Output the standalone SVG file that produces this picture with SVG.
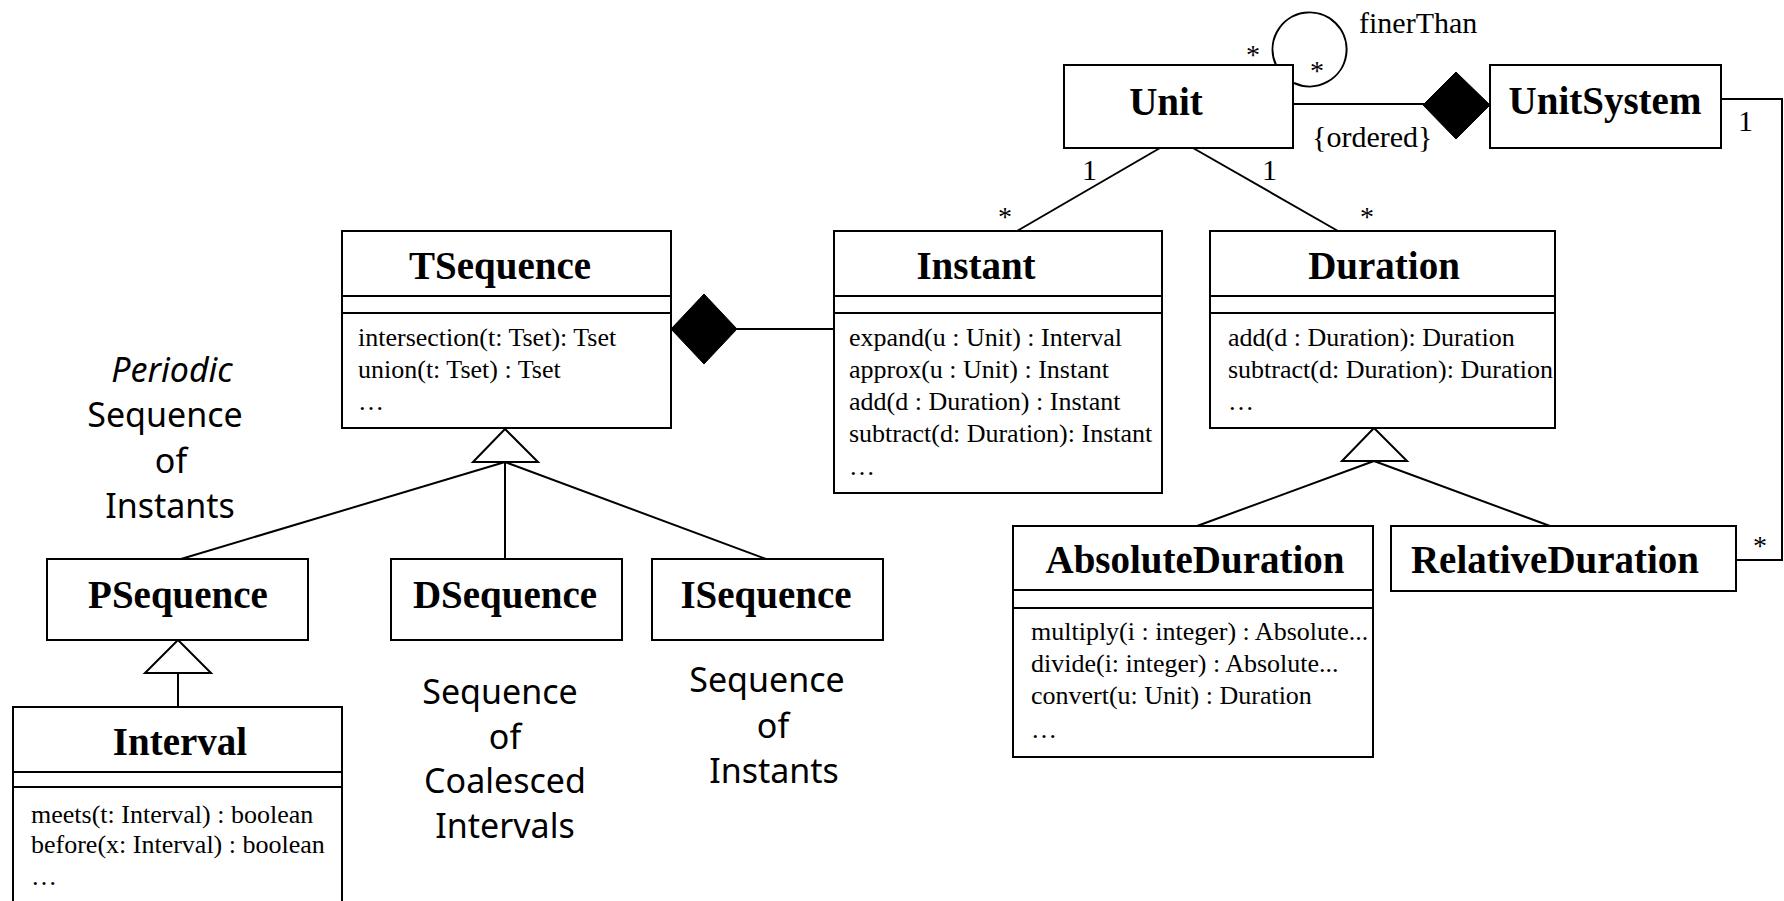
<svg xmlns="http://www.w3.org/2000/svg" width="1784" height="901" viewBox="0 0 1784 901">
<style>
.box{fill:#fff;stroke:#000;stroke-width:2}
.sep{stroke:#000;stroke-width:2}
.title{font-family:"Liberation Serif","Times New Roman",serif;font-weight:bold;font-size:39px;text-anchor:middle;fill:#000}
.m{font-family:"Liberation Serif","Times New Roman",serif;font-size:26px;fill:#000}
.lbl{font-family:"Liberation Serif","Times New Roman",serif;font-size:30px;fill:#000}
.ast{font-family:"Liberation Serif","Times New Roman",serif;font-size:28px;fill:#000;text-anchor:middle}
.ann{font-family:"Noto Sans","DejaVu Sans",sans-serif;font-size:34px;text-anchor:middle;fill:#000}
.conn{stroke:#000;stroke-width:2;fill:none}
.dia{fill:#000;stroke:#000;stroke-width:1}
.tri{fill:#fff;stroke:#000;stroke-width:2}
</style>
<defs>
<clipPath id="clipDur"><rect x="1210" y="314" width="344" height="114"/></clipPath>
<clipPath id="clipAbs"><rect x="1013" y="608" width="359" height="149"/></clipPath>
</defs>
<rect width="1784" height="901" fill="#fff"/>

<g id="connectors">
  <path class="conn" d="M1276,65 A37,37 0 1 1 1294,83"/>
  <line class="conn" x1="1293" y1="104" x2="1424" y2="104"/>
  <polygon class="dia" points="1423,105 1456,72 1490,105 1456,139"/>
  <line class="conn" x1="1160" y1="148" x2="1017" y2="231"/>
  <line class="conn" x1="1193" y1="148" x2="1338" y2="231"/>
  <polyline class="conn" points="1721,99 1782,99 1782,560 1736,560"/>
  <line class="conn" x1="737" y1="329" x2="834" y2="329"/>
  <polygon class="dia" points="671,329 704,294 737,329 704,364"/>
  <line class="conn" x1="505" y1="462" x2="181" y2="559"/>
  <line class="conn" x1="505" y1="462" x2="505" y2="559"/>
  <line class="conn" x1="505" y1="462" x2="766" y2="559"/>
  <polygon class="tri" points="505,429 473,462 538,462"/>
  <line class="conn" x1="178" y1="673" x2="178" y2="707"/>
  <polygon class="tri" points="178,640 145,673 211,673"/>
  <line class="conn" x1="1374" y1="461" x2="1197" y2="526"/>
  <line class="conn" x1="1374" y1="461" x2="1550" y2="526"/>
  <polygon class="tri" points="1374,428 1342,461 1407,461"/>
  <text class="ast" x="1253" y="64">*</text>
  <text class="ast" x="1317" y="80">*</text>
  <text class="lbl" x="1359" y="33">finerThan</text>
  <text class="lbl" x="1312" y="147">{ordered}</text>
  <text class="lbl" x="1738" y="131">1</text>
  <text class="lbl" x="1082" y="180">1</text>
  <text class="lbl" x="1262" y="180">1</text>
  <text class="ast" x="1005" y="226">*</text>
  <text class="ast" x="1367" y="226">*</text>
  <text class="ast" x="1760" y="555">*</text>
</g>

<g id="Unit">
  <rect class="box" x="1064" y="65" width="229" height="83"/>
  <text class="title" x="1166" y="115">Unit</text>
</g>
<g id="UnitSystem">
  <rect class="box" x="1490" y="65" width="231" height="83"/>
  <text class="title" x="1605" y="114">UnitSystem</text>
</g>

<g id="TSequence">
  <rect class="box" x="342" y="231" width="329" height="197"/>
  <line class="sep" x1="342" y1="296" x2="671" y2="296"/>
  <line class="sep" x1="342" y1="313" x2="671" y2="313"/>
  <text class="title" x="500" y="279">TSequence</text>
  <text class="m" x="358" y="346">intersection(t: Tset): Tset</text>
  <text class="m" x="358" y="378">union(t: Tset) : Tset</text>
  <text class="m" x="358" y="410">…</text>
</g>

<g id="Instant">
  <rect class="box" x="834" y="231" width="328" height="262"/>
  <line class="sep" x1="834" y1="296" x2="1162" y2="296"/>
  <line class="sep" x1="834" y1="313" x2="1162" y2="313"/>
  <text class="title" x="976" y="279">Instant</text>
  <text class="m" x="849" y="346">expand(u : Unit) : Interval</text>
  <text class="m" x="849" y="378">approx(u : Unit) : Instant</text>
  <text class="m" x="849" y="410">add(d : Duration) : Instant</text>
  <text class="m" x="849" y="442">subtract(d: Duration): Instant</text>
  <text class="m" x="849" y="475">…</text>
</g>

<g id="Duration">
  <rect class="box" x="1210" y="231" width="345" height="197"/>
  <line class="sep" x1="1210" y1="296" x2="1555" y2="296"/>
  <line class="sep" x1="1210" y1="313" x2="1555" y2="313"/>
  <text class="title" x="1384" y="279">Duration</text>
  <g clip-path="url(#clipDur)">
    <text class="m" x="1228" y="346">add(d : Duration): Duration</text>
    <text class="m" x="1228" y="378">subtract(d: Duration): Duration</text>
    <text class="m" x="1228" y="410">…</text>
  </g>
</g>

<g id="PSequence">
  <rect class="box" x="47" y="559" width="261" height="81"/>
  <text class="title" x="178" y="608">PSequence</text>
</g>
<g id="DSequence">
  <rect class="box" x="391" y="559" width="231" height="81"/>
  <text class="title" x="505" y="608">DSequence</text>
</g>
<g id="ISequence">
  <rect class="box" x="652" y="559" width="231" height="81"/>
  <text class="title" x="766" y="608">ISequence</text>
</g>

<g id="Interval">
  <rect class="box" x="13" y="707" width="329" height="220"/>
  <line class="sep" x1="13" y1="772" x2="342" y2="772"/>
  <line class="sep" x1="13" y1="787" x2="342" y2="787"/>
  <text class="title" x="180" y="755">Interval</text>
  <text class="m" x="31" y="823">meets(t: Interval) : boolean</text>
  <text class="m" x="31" y="853">before(x: Interval) : boolean</text>
  <text class="m" x="31" y="885">…</text>
</g>

<g id="AbsoluteDuration">
  <rect class="box" x="1013" y="526" width="360" height="231"/>
  <line class="sep" x1="1013" y1="590" x2="1373" y2="590"/>
  <line class="sep" x1="1013" y1="608" x2="1373" y2="608"/>
  <text class="title" x="1195" y="573">AbsoluteDuration</text>
  <g clip-path="url(#clipAbs)">
    <text class="m" x="1031" y="640">multiply(i : integer) : Absolute...</text>
    <text class="m" x="1031" y="672">divide(i: integer) : Absolute...</text>
    <text class="m" x="1031" y="704">convert(u: Unit) : Duration</text>
    <text class="m" x="1031" y="738">…</text>
  </g>
</g>

<g id="RelativeDuration">
  <rect class="box" x="1391" y="526" width="345" height="65"/>
  <text class="title" x="1555" y="573">RelativeDuration</text>
</g>

<g id="note-periodic">
  <text class="ann" x="172" y="382" font-style="italic">Periodic</text>
  <text class="ann" x="165" y="427">Sequence</text>
  <text class="ann" x="171" y="473">of</text>
  <text class="ann" x="170" y="518">Instants</text>
</g>
<g id="note-coalesced">
  <text class="ann" x="500" y="704">Sequence</text>
  <text class="ann" x="505" y="749">of</text>
  <text class="ann" x="505" y="793">Coalesced</text>
  <text class="ann" x="505" y="838">Intervals</text>
</g>
<g id="note-instants">
  <text class="ann" x="767" y="692">Sequence</text>
  <text class="ann" x="773" y="738">of</text>
  <text class="ann" x="774" y="783">Instants</text>
</g>
</svg>
